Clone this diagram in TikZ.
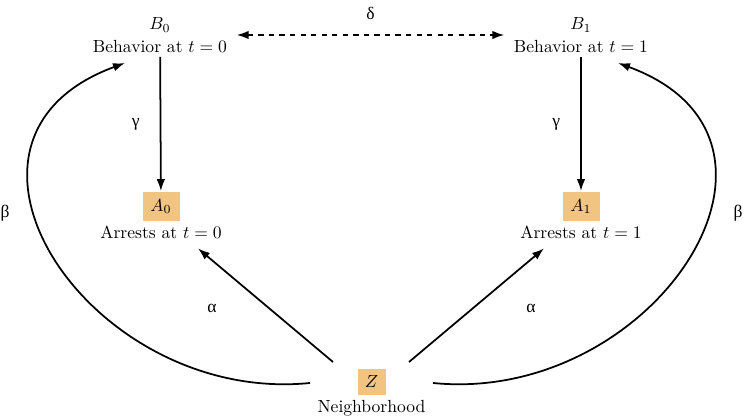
\documentclass[tikz,border=0pt]{standalone}
\usepackage{amsmath, amssymb}
\usepackage{fontspec}
\usepackage{xcolor}
\usepackage{tikz}
\usetikzlibrary{arrows.meta, positioning, calc}
\newfontfamily\grkfont{Liberation Serif}
\definecolor{boxorange}{RGB}{242,196,130}

\begin{document}
\begin{tikzpicture}[>={Latex[length=2.4mm,width=1.7mm]}, line width=1pt]
  \tikzset{varbox/.style={fill=boxorange, minimum width=0.74cm, minimum height=0.58cm, inner sep=1pt},
           caption/.style={align=center, inner sep=2pt},
           coef/.style={font=\grkfont}}
  \useasboundingbox (0,0) rectangle (14.86,8.38);
  % ---- behaviour at both times ----
  \node[caption] (B0) at (3.2,7.68) {$B_0$\\[1pt]Behavior at $t=0$};
  \node[caption] (B1) at (11.62,7.68) {$B_1$\\[1pt]Behavior at $t=1$};
  % ---- observed arrests ----
  \node[varbox] (A0) at (3.22,4.25) {$A_0$};
  \node[varbox] (A1) at (11.62,4.25) {$A_1$};
  \node[caption,below=0pt of A0] (A0t) {Arrests at $t=0$};
  \node[caption,below=0pt of A1] (A1t) {Arrests at $t=1$};
  % ---- neighbourhood ----
  \node[varbox, minimum width=0.56cm, minimum height=0.52cm] (Z) at (7.43,0.74) {$Z$};
  \node[caption,below=0pt of Z] (Zt) {Neighborhood};
  % free ends of the long arcs and of the alpha arrows
  \coordinate (bl0) at (6.2,0.72);   \coordinate (bl1) at (2.5,7.12);
  \coordinate (br0) at (8.66,0.72);  \coordinate (br1) at (12.36,7.12);
  \coordinate (al) at (6.66,1.14);   \coordinate (ar) at (8.18,1.14);
  % ---- paths ----
  \draw[<->,dashed,shorten <=3pt,shorten >=3pt] (B0) -- (B1) node[midway,above=5pt,coef]{δ};
  \draw[->] (B0) -- (A0) node[midway,left=8pt,coef]{γ};
  \draw[->] (B1) -- (A1) node[midway,left=8pt,coef]{γ};
  \draw[->] (al) -- ($(A0t.south)+(0.74,-0.1)$);
  \draw[->] (ar) -- ($(A1t.south)+(-0.74,-0.1)$);
  \node[coef] at (4.24,2.22) {α};
  \node[coef] at (10.62,2.22) {α};
  \draw[->] (bl0) .. controls (1.8,0.28) and (-1.7,5.58) .. (bl1);
  \draw[->] (br0) .. controls (13.06,0.28) and (16.56,5.58) .. (br1);
  \node[coef] at (0.1,4.12) {β};
  \node[coef] at (14.76,4.12) {β};
\end{tikzpicture}
\end{document}
